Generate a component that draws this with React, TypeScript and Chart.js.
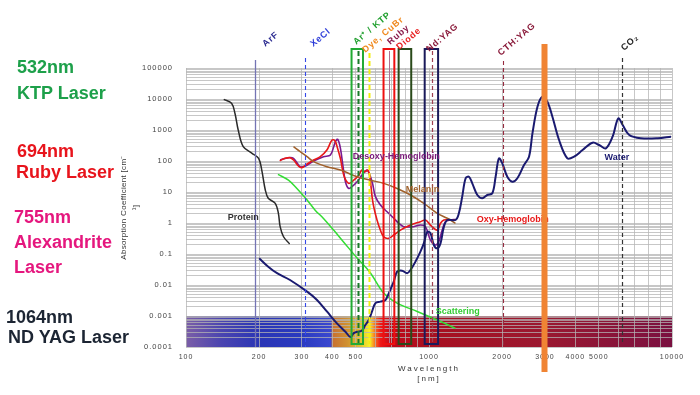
import React, { useEffect, useRef } from 'react';
import { Chart, registerables } from 'chart.js';

Chart.register(...registerables);

// ---------- data ----------
const xTickLabels = [100, 200, 300, 400, 500, 1000, 2000, 3000, 4000, 5000, 10000];
const yTickLabels = ['0.0001', '0.001', '0.01', '0.1', '1', '10', '100', '1000', '10000', '100000'];

const waterWl = [200, 218, 237, 268, 315, 346, 380, 418, 453, 475, 490, 506, 530, 547, 565, 583, 602, 631, 662, 683, 716, 739, 775, 813, 839, 880, 922, 952, 984, 1014, 1047, 1081, 1115, 1151, 1189, 1285, 1327, 1370, 1415, 1460, 1507, 1581, 1657, 1737, 1822, 1880, 1940, 2003, 2100, 2202, 2310, 2460, 2580, 2665, 2795, 2930, 3070, 3220, 3430, 3710, 3955, 4285, 4710, 5015, 5345, 5695, 6010, 6265, 6670, 7450, 8730, 9910];
const waterAbs = [0.073, 0.039, 0.024, 0.0145, 0.0061, 0.0033, 0.0014, 0.00058, 0.00031, 0.00021, 0.00028, 0.00031, 0.00034, 0.00051, 0.00074, 0.0014, 0.0026, 0.0029, 0.0033, 0.0054, 0.0128, 0.027, 0.029, 0.024, 0.0305, 0.057, 0.12, 0.22, 0.52, 0.47, 0.195, 0.153, 0.22, 0.74, 1.25, 1.25, 2.05, 7.1, 27.7, 31, 19, 8.0, 6.3, 8.0, 9.1, 31, 122, 84, 31, 21.5, 27.7, 74, 138, 783, 5650, 11900, 8180, 2690, 475, 122, 138, 226, 389, 328, 257, 608, 2380, 1450, 690, 540, 540, 608];

const proteinWl = [143, 154, 159, 164, 172, 187, 199, 205, 212, 218, 233, 240, 244, 252, 267];
const proteinAbs = [9770, 7260, 3460, 1000, 289, 177, 122, 51, 11.6, 6.3, 4.3, 2.05, 0.76, 0.36, 0.21];

const scatterWl = [239, 264, 286, 315, 340, 368, 405, 445, 506, 574, 651, 739, 894, 1081, 1286];
const scatterAbs = [37, 24, 13, 5.5, 2.6, 1.4, 0.59, 0.245, 0.074, 0.0245, 0.0055, 0.0026, 0.0014, 0.00074, 0.0004];

const oxyWl = [243, 256, 268, 277, 290, 300, 315, 335, 357, 380, 399, 410, 421, 432, 446, 467, 490, 514, 530, 547, 560, 571, 583, 592, 611, 631, 651, 683, 716, 763, 839, 922, 967, 1014, 1081, 1115, 1151, 1227, 1285];
const oxyAbs = [102, 122, 128, 108, 69, 61, 80, 108, 138, 226, 475, 450, 250, 120, 35, 19, 24, 35, 51, 45, 51, 31, 7.1, 3.4, 1.25, 0.59, 0.36, 0.32, 0.41, 0.59, 0.86, 1.1, 1.25, 0.86, 0.59, 0.98, 1.25, 1.25, 1.25];

const deoxyWl = [244, 264, 277, 295, 310, 335, 368, 393, 412, 421, 432, 443, 453, 467, 482, 506, 530, 556, 583, 602, 631, 672, 716, 751, 787, 865, 922, 967, 1014, 1064, 1097, 1133, 1169, 1227, 1285];
const deoxyAbs = [108, 128, 122, 65, 69, 100, 138, 156, 420, 500, 257, 65, 21.5, 13, 15, 21.5, 35, 51, 21.5, 7.1, 3.8, 2.3, 1.42, 0.98, 0.76, 0.76, 0.86, 0.76, 0.28, 0.195, 0.25, 0.59, 1.1, 1.25, 1.3];

const melaninWl = [277, 295, 315, 335, 380, 432, 506, 574, 651, 739, 839, 952, 1081, 1189, 1285];
const melaninAbs = [289, 200, 138, 95, 65, 51, 31, 24, 19, 13, 8, 4.3, 2.05, 1.42, 0.98];

const spectrumWl = [100, 140, 200, 300, 395, 400, 460, 520, 570, 600, 630, 700, 1000, 3000, 10000];
const spectrumColors = ['#7b5ea7', '#4a44b0', '#2a35b5', '#2a3ac0', '#3a48d0', '#c87030', '#d09030', '#e0c030', '#f8f028', '#f87020', '#f01818', '#c00818', '#a81020', '#9a1830', '#7a1040'];

// laser markers (wavelengths)
const laserLinesWl = { ArF: 193, XeCl: 310, Dye: 565, CTH: 2010, Er: 2960, CO2: 6220 };
const laserBoxes = [
  { name: 'ArKTP', lo: 480, hi: 535, inner: 510 },
  { name: 'Ruby', lo: 650, hi: 720, inner: 685 },
  { name: 'Diode', lo: 750, hi: 845, inner: null as number | null },
  { name: 'NdYAG', lo: 960, hi: 1090, inner: 1030 },
];

const topLabels = [
  { text: 'ArF', wl: 212, dy: -21, color: '#2a2a90' },
  { text: 'XeCl', wl: 334, dy: -21, color: '#2a3ad8' },
  { text: 'Ar⁺ / KTP', wl: 502, dy: -23, color: '#22a030' },
  { text: 'Dye, CuBr', wl: 547, dy: -15, color: '#f08a20' },
  { text: 'Ruby', wl: 693, dy: -23, color: '#8a1a4a' },
  { text: 'Diode', wl: 755, dy: -18, color: '#e82020' },
  { text: 'Nd:YAG', wl: 1003, dy: -16, color: '#8a1a3a' },
  { text: 'CTH:YAG', wl: 1975, dy: -12, color: '#8a1a3a' },
  { text: 'CO₂', wl: 6340, dy: -17, color: '#222222' },
];

const curveLabels = [
  { text: 'Protein', wl: 172, val: 1.45, color: '#333333' },
  { text: 'Desoxy-Hemoglobin', wl: 734, val: 135, color: '#7a1a7a' },
  { text: 'Melanin', wl: 940, val: 11.6, color: '#a0602a' },
  { text: 'Oxy-Hemoglobin', wl: 2210, val: 1.25, color: '#e81818' },
  { text: 'Water', wl: 5930, val: 125, color: '#1a1a70' },
  { text: 'Scattering', wl: 1312, val: 0.00135, color: '#33cc33' },
];

const sideLabels = [
  { text: '532nm', color: '#1da04a', left: 17, top: 58 },
  { text: 'KTP Laser', color: '#1da04a', left: 17, top: 84 },
  { text: '694nm', color: '#e8141c', left: 17, top: 142 },
  { text: 'Ruby Laser', color: '#e8141c', left: 16, top: 163 },
  { text: '755nm', color: '#e5177e', left: 14, top: 208 },
  { text: 'Alexandrite', color: '#e5177e', left: 14, top: 233 },
  { text: 'Laser', color: '#e5177e', left: 14, top: 258 },
  { text: '1064nm', color: '#1c2533', left: 6, top: 308 },
  { text: 'ND YAG Laser', color: '#1c2533', left: 8, top: 328 },
];

const FONT = "'Liberation Sans', Arial, sans-serif";

function pts(xs: number[], ys: number[]) {
  return xs.map((x, i) => ({ x, y: ys[i] }));
}

const overlayPlugin = {
  id: 'overlay',
  beforeDraw(chart: any) {
    const { ctx, scales } = chart;
    const x = scales.x, y = scales.y;
    ctx.save();
    const x0 = x.getPixelForValue(100);
    const x1 = x.getPixelForValue(10000);
    const g = ctx.createLinearGradient(x0, 0, x1, 0);
    spectrumWl.forEach((w, i) => {
      const f = (x.getPixelForValue(w) - x0) / (x1 - x0);
      g.addColorStop(Math.min(1, Math.max(0, f)), spectrumColors[i]);
    });
    ctx.fillStyle = g;
    const yt = y.getPixelForValue(0.001);
    const yb = y.getPixelForValue(0.0001);
    ctx.fillRect(x0, yt, x1 - x0, yb - yt);
    ctx.restore();
    ctx.letterSpacing = '1px';
  },
  afterDatasetsDraw(chart: any) {
    const { ctx, chartArea, scales } = chart;
    const x = scales.x, y = scales.y;
    const top = chartArea.top;
    const bottom = chartArea.bottom;
    ctx.save();
    ctx.letterSpacing = '0px';

    const vline = (wl: number, y0: number, y1: number, color: string, width: number, dash: number[]) => {
      const px = Math.round(x.getPixelForValue(wl)) + 0.5;
      ctx.beginPath();
      ctx.setLineDash(dash);
      ctx.strokeStyle = color;
      ctx.lineWidth = width;
      ctx.moveTo(px, y0);
      ctx.lineTo(px, y1);
      ctx.stroke();
      ctx.setLineDash([]);
    };

    vline(laserLinesWl.ArF, top - 8, bottom, '#7474b4', 1.3, []);
    vline(laserLinesWl.XeCl, top - 10, bottom, '#3448e8', 1.1, [4, 3]);
    vline(laserLinesWl.Dye, top - 15, bottom - 3, '#f2ee10', 2, [5, 3]);
    vline(laserLinesWl.CTH, top - 7, bottom, '#962a3e', 1.1, [4, 3]);
    vline(laserLinesWl.CO2, top - 10, bottom - 5, '#333333', 1.2, [4, 3]);

    const boxStyles: Record<string, { stroke: string; inner: string; dash: number[]; iw: number }> = {
      ArKTP: { stroke: '#22aa33', inner: '#1a7a2a', dash: [5, 3], iw: 2 },
      Ruby: { stroke: '#ee1010', inner: '#b07090', dash: [], iw: 1 },
      Diode: { stroke: '#2a4a1a', inner: '#2a4a1a', dash: [], iw: 1 },
      NdYAG: { stroke: '#1a1a5a', inner: '#a04050', dash: [4, 3], iw: 1.2 },
    };
    laserBoxes.forEach((b) => {
      const s = boxStyles[b.name];
      const l = x.getPixelForValue(b.lo);
      const r = x.getPixelForValue(b.hi);
      const bt = top - 19;
      const bb = bottom - 3;
      if (b.inner !== null) vline(b.inner, bt + 2, bb - 1, s.inner, s.iw, s.dash);
      ctx.strokeStyle = s.stroke;
      ctx.lineWidth = 2;
      ctx.strokeRect(l, bt, r - l, bb - bt);
    });

    // top laser labels
    ctx.font = `bold 9px ${FONT}`;
    ctx.letterSpacing = '0.8px';
    ctx.textAlign = 'left';
    ctx.textBaseline = 'alphabetic';
    topLabels.forEach((t) => {
      ctx.save();
      ctx.translate(x.getPixelForValue(t.wl), top + t.dy);
      ctx.rotate((-40 * Math.PI) / 180);
      ctx.fillStyle = t.color;
      ctx.fillText(t.text, 0, 0);
      ctx.restore();
    });

    // curve labels
    ctx.letterSpacing = '0px';
    ctx.font = `bold 9px ${FONT}`;
    ctx.textAlign = 'center';
    ctx.textBaseline = 'middle';
    curveLabels.forEach((c) => {
      ctx.fillStyle = c.color;
      ctx.fillText(c.text, x.getPixelForValue(c.wl), y.getPixelForValue(c.val));
    });

    // axis titles
    ctx.fillStyle = '#333333';
    ctx.font = `8px ${FONT}`;
    ctx.letterSpacing = '2px';
    const cx = (chartArea.left + chartArea.right) / 2;
    ctx.fillText('Wavelength', cx, 369);
    ctx.fillText('[nm]', cx, 379);
    ctx.letterSpacing = '0.3px';
    const cy = (chartArea.top + chartArea.bottom) / 2;
    ctx.save();
    ctx.translate(124, cy);
    ctx.rotate(-Math.PI / 2);
    ctx.fillText('Absorption Coefficient [cm⁻', 0, 0);
    ctx.restore();
    ctx.save();
    ctx.translate(136, cy);
    ctx.rotate(-Math.PI / 2);
    ctx.fillText('¹]', 0, 0);
    ctx.restore();

    // Er:YAG thick orange line
    vline(laserLinesWl.Er, top - 24, 372, '#f08434', 6, []);
    ctx.restore();
  },
};

export default function App() {
  const ref = useRef<HTMLCanvasElement>(null);
  useEffect(() => {
    if (!ref.current) return;
    const gridColor = 'rgba(180,180,180,0.75)';
    const chart = new Chart(ref.current, {
      type: 'line',
      data: {
        datasets: [
          { label: 'Water', data: pts(waterWl, waterAbs), borderColor: '#1a1a70', borderWidth: 2 },
          { label: 'Protein', data: pts(proteinWl, proteinAbs), borderColor: '#2a2a2a', borderWidth: 1.5 },
          { label: 'Scattering', data: pts(scatterWl, scatterAbs), borderColor: '#33dd33', borderWidth: 1.5 },
          { label: 'Melanin', data: pts(melaninWl, melaninAbs), borderColor: '#a0602a', borderWidth: 1.5 },
          { label: 'Oxy-Hemoglobin', data: pts(oxyWl, oxyAbs), borderColor: '#e81818', borderWidth: 1.6 },
          { label: 'Desoxy-Hemoglobin', data: pts(deoxyWl, deoxyAbs), borderColor: '#7a1a90', borderWidth: 1.6 },
        ],
      },
      options: {
        responsive: false,
        animation: false,
        events: [],
        layout: { padding: { left: 0, top: 68, right: 28, bottom: 0 } },
        elements: { point: { radius: 0 }, line: { tension: 0.35, fill: false } },
        plugins: { legend: { display: false }, tooltip: { enabled: false } },
        scales: {
          x: {
            type: 'logarithmic',
            min: 100,
            max: 10000,
            afterBuildTicks: (scale: any) => {
              const t: { value: number }[] = [];
              for (let e = 2; e <= 3; e++) for (let s = 1; s <= 9; s++) t.push({ value: s * Math.pow(10, e) });
              t.push({ value: 10000 });
              scale.ticks = t;
            },
            afterFit: (scale: any) => { scale.height = 48; },
            grid: { color: gridColor, drawTicks: false, lineWidth: 1 },
            border: { display: false },
            ticks: {
              autoSkip: false,
              maxRotation: 0,
              padding: 6,
              color: '#444444',
              font: { family: FONT, size: 7 },
              callback: (v: any) => (xTickLabels.includes(Number(v)) ? String(v) : ''),
            },
          },
          y: {
            type: 'logarithmic',
            min: 0.0001,
            max: 100000,
            afterBuildTicks: (scale: any) => {
              const t: { value: number }[] = [];
              for (let e = -4; e <= 4; e++) for (let s = 1; s <= 9; s++) t.push({ value: s * Math.pow(10, e) });
              t.push({ value: 100000 });
              scale.ticks = t;
            },
            afterFit: (scale: any) => { scale.width = 186; },
            grid: { color: gridColor, drawTicks: false, lineWidth: 1 },
            border: { display: false },
            ticks: {
              autoSkip: false,
              padding: 13,
              color: '#444444',
              font: { family: FONT, size: 7.5 },
              callback: (v: any) => {
                const e = Math.log10(Number(v));
                const r = Math.round(e);
                return Math.abs(e - r) < 1e-6 ? yTickLabels[r + 4] : '';
              },
            },
          },
        },
      },
      plugins: [overlayPlugin],
    } as any);
    return () => chart.destroy();
  }, []);

  return (
    <div style={{ position: 'fixed', left: 0, top: 0, width: 700, height: 395, background: '#ffffff', overflow: 'hidden' }}>
      <canvas ref={ref} width={700} height={395} style={{ position: 'absolute', left: 0, top: 0 }} />
      {sideLabels.map((s, i) => (
        <div
          key={i}
          style={{
            position: 'absolute',
            left: s.left,
            top: s.top,
            color: s.color,
            fontFamily: FONT,
            fontWeight: 'bold',
            fontSize: 18,
            lineHeight: '18px',
            whiteSpace: 'nowrap',
          }}
        >
          {s.text}
        </div>
      ))}
    </div>
  );
}
